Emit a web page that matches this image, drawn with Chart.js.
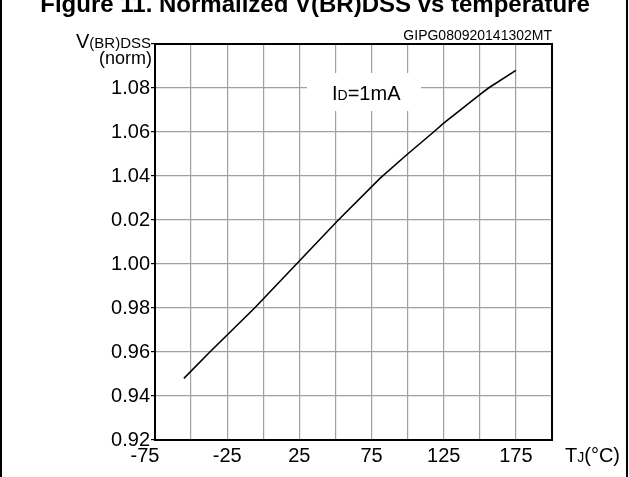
<!DOCTYPE html>
<html>
<head>
<meta charset="utf-8">
<script src="https://cdn.jsdelivr.net/npm/chart.js@4.4.0/dist/chart.umd.min.js"></script>
<style>
  html, body { margin: 0; padding: 0; background: #fff; }
  #wrap { width: 629px; height: 477px; }
</style>
</head>
<body>
<div id="wrap"><canvas id="vbrChart" width="629" height="477"></canvas></div>
<script>
/* ─── Data ───────────────────────────────────────────────────── */
const TEMP_C   = [-55, -37, -6, 23, 52, 81, 100, 118, 125, 150, 156, 175];
const V_NORM   = [0.948, 0.960, 0.980, 1.000, 1.020, 1.039, 1.050, 1.060, 1.064, 1.077, 1.080, 1.088];
const X_GRID   = [-75, -50, -25, 0, 25, 50, 75, 100, 125, 150, 175, 200];
// nhãn -75 lệch trái như bản gốc (thêm khoảng trắng phía sau)
const X_LABELS = ['-75\u2002\u2002', '', '-25', '', '25', '', '75', '', '125', '', '175', ''];
const Y_GRID   = [0.92, 0.94, 0.96, 0.98, 1.00, 1.02, 1.04, 1.06, 1.08, 1.10];
const Y_LABELS = ['0.92', '0.94', '0.96', '0.98', '1.00', '0.02', '1.04', '1.06', '1.08', ''];

const FONT = '"Liberation Sans", Arial, sans-serif';

/** Vẽ một dòng chữ gồm nhiều đoạn (chữ thường + chỉ số dưới) */
function drawRuns(ctx, x, y, runs, align) {
  ctx.textBaseline = 'alphabetic';
  ctx.textAlign = 'left';
  let w = 0;
  runs.forEach(r => { ctx.font = r[1]; w += ctx.measureText(r[0]).width; });
  let cx = align === 'right' ? x - w : align === 'center' ? x - w / 2 : x;
  runs.forEach(r => {
    ctx.font = r[1];
    ctx.fillText(r[0], cx, y);
    cx += ctx.measureText(r[0]).width;
  });
}

const decor = {
  id: 'decor',
  beforeDatasetsDraw(chart) {
    // nền trắng cho nhãn I_D=1mA (che lưới)
    const ctx = chart.ctx;
    ctx.save();
    ctx.fillStyle = '#fff';
    ctx.fillRect(307, 73, 114, 38);
    ctx.restore();
  },
  afterDraw(chart) {
    const { ctx, chartArea: a } = chart;
    ctx.save();
    ctx.strokeStyle = '#000';
    ctx.lineWidth = 2;
    ctx.strokeRect(a.left, a.top, a.right - a.left, a.bottom - a.top);

    // viền ngoài trái / phải
    ctx.fillStyle = '#000';
    ctx.fillRect(0, 0, 2, 477);
    ctx.fillRect(626, 0, 2, 477);

    // tiêu đề (bị cắt ở mép trên)
    drawRuns(ctx, 315, 12, [['Figure 11. Normalized V(BR)DSS vs temperature', `bold 24px ${FONT}`]], 'center');

    drawRuns(ctx, 552, 40, [['GIPG080920141302MT', `14px ${FONT}`]], 'right');

    // tiêu đề trục Y
    drawRuns(ctx, 151, 48, [['V', `20px ${FONT}`], ['(BR)DSS', `15px ${FONT}`]], 'right');
    drawRuns(ctx, 152, 64, [['(norm)', `18px ${FONT}`]], 'right');

    // tiêu đề trục X
    drawRuns(ctx, 565, 462, [['T', `20px ${FONT}`], ['J', `14px ${FONT}`], ['(°C)', `20px ${FONT}`]], 'left');

    // nhãn điều kiện đo
    drawRuns(ctx, 332, 100, [['I', `20px ${FONT}`], ['D', `14px ${FONT}`], ['=1mA', `20px ${FONT}`]], 'left');
    ctx.restore();
  },
};

new Chart(document.getElementById('vbrChart'), {
  type: 'line',
  data: {
    datasets: [{
      data: TEMP_C.map((t, i) => ({ x: t, y: V_NORM[i] })),
      borderColor: '#000', borderWidth: 1.6,
      pointRadius: 0, tension: 0, fill: false,
    }],
  },
  options: {
    responsive: false, animation: false,
    layout: { padding: { left: 0, right: 77, top: 44, bottom: 0 } },
    plugins: { legend: { display: false }, tooltip: { enabled: false } },
    scales: {
      x: {
        type: 'linear', min: -75, max: 200,
        afterBuildTicks: s => { s.ticks = X_GRID.map(v => ({ value: v })); },
        afterFit: s => { s.height = 37; },
        ticks: {
          autoSkip: false, maxRotation: 0, padding: 4,
          color: '#000', font: { family: FONT, size: 20 },
          callback: (v, i) => X_LABELS[i],
        },
        grid: { color: '#a0a0a0', lineWidth: 1.2, drawTicks: false },
        border: { display: false },
      },
      y: {
        type: 'linear', min: 0.92, max: 1.10,
        afterBuildTicks: s => { s.ticks = Y_GRID.map(v => ({ value: v })); },
        afterFit: s => { s.width = 155; },
        ticks: {
          autoSkip: false, padding: 1,
          color: '#000', font: { family: FONT, size: 20 },
          callback: (v, i) => Y_LABELS[i],
        },
        grid: { color: '#a0a0a0', lineWidth: 1.2, tickLength: 4, tickColor: '#000' },
        border: { display: false },
      },
    },
  },
  plugins: [decor],
});
</script>
</body>
</html>
